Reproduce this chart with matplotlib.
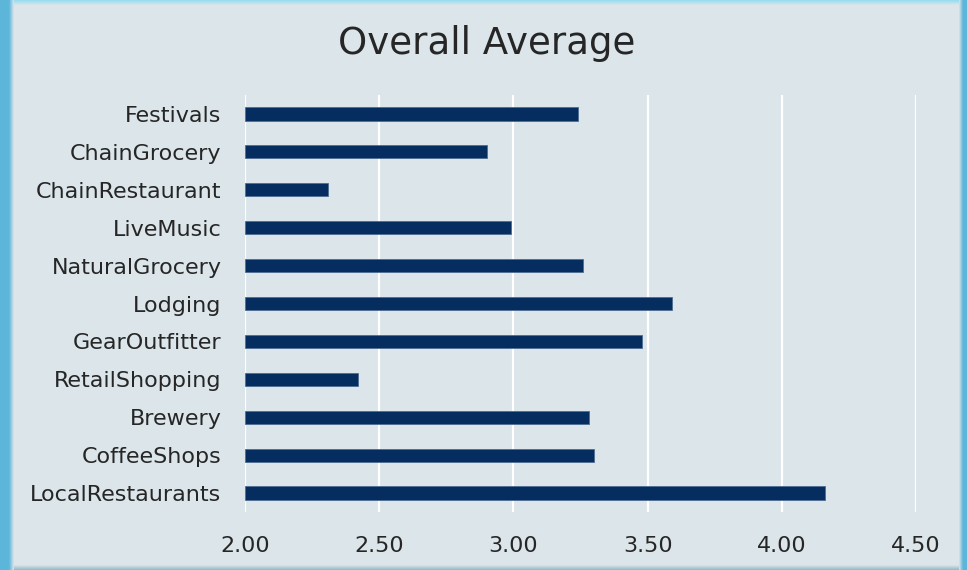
#!/usr/bin/env python3
"""
Horizontal bar chart of overall average ratings per business category.
"""

import numpy as np
import matplotlib
matplotlib.use("Agg")
import matplotlib.pyplot as plt

# ------------------------------------------------------------------
# data (top to bottom as displayed)
# ------------------------------------------------------------------
categories = ["Festivals", "ChainGrocery", "ChainRestaurant", "LiveMusic",
              "NaturalGrocery", "Lodging", "GearOutfitter", "RetailShopping",
              "Brewery", "CoffeeShops", "LocalRestaurants"]
averages = [3.24, 2.90, 2.31, 2.99, 3.26, 3.59, 3.48, 2.42, 3.28, 3.30, 4.16]

x_ticks = [2.00, 2.50, 3.00, 3.50, 4.00, 4.50]
x_tick_labels = [f"{t:.2f}" for t in x_ticks]

plt.rcParams["font.family"] = ["DejaVu Sans"]
text_col = "#262626"
panel_col = "#dbe5ea"
edge_col = "#5cb6da"
bar_col = "#052d5f"

fig = plt.figure(figsize=(9.67, 5.70), dpi=100)
fig.patch.set_facecolor(panel_col)

# ------------------------------------------------------------------
# slide frame: blue edges around the light panel
# ------------------------------------------------------------------
bg = fig.add_axes([0, 0, 1, 1], zorder=-5)
bg.axis("off")

def edge_fade(ax, extent, c0, c1, horizontal=True, n=64):
    ramp = np.linspace(0, 1, n)
    c0 = np.array(matplotlib.colors.to_rgb(c0))
    c1 = np.array(matplotlib.colors.to_rgb(c1))
    img = c0[None, :] * (1 - ramp[:, None]) + c1[None, :] * ramp[:, None]
    img = img[None, :, :] if horizontal else img[:, None, :]
    ax.imshow(img, extent=extent, aspect="auto", interpolation="bilinear")

edge_fade(bg, (0, 967, 5, 0), "#95dbf0", panel_col, horizontal=False)      # top
edge_fade(bg, (0, 967, 570, 565), panel_col, "#8fb8c6", horizontal=False)  # bottom
bg.add_patch(plt.Rectangle((0, 0), 9, 570, color=edge_col, lw=0))
edge_fade(bg, (9, 14, 570, 0), edge_col, panel_col)                        # left
bg.add_patch(plt.Rectangle((963, 0), 4, 570, color=edge_col, lw=0))
edge_fade(bg, (959, 963, 570, 0), panel_col, edge_col)                     # right
bg.set_xlim(0, 967)
bg.set_ylim(570, 0)

# ------------------------------------------------------------------
# bars
# ------------------------------------------------------------------
ax = fig.add_axes([245 / 967, 1 - 512 / 570, (916 - 245) / 967, (512 - 95) / 570])
ax.set_facecolor("none")

ypos = np.arange(len(categories))
ax.barh(ypos, [v - x_ticks[0] for v in averages], left=x_ticks[0], height=0.35,
        color=bar_col, edgecolor="#4d6d92", linewidth=0.6, zorder=3)

ax.set_xlim(x_ticks[0], x_ticks[-1])
ax.set_ylim(len(categories) - 0.5, -0.5)
ax.set_xticks(x_ticks)
ax.set_xticklabels(x_tick_labels)
ax.set_yticks(ypos)
ax.set_yticklabels(categories)

ax.grid(axis="x", color="white", linewidth=1.6, zorder=1)
ax.set_axisbelow(True)
for s in ax.spines.values():
    s.set_visible(False)
ax.tick_params(axis="both", length=0, labelsize=16, colors=text_col)
ax.tick_params(axis="x", pad=17)
ax.tick_params(axis="y", pad=17)

fig.text(487 / 967, 1 - 44 / 570, "Overall Average", ha="center", va="center",
         fontsize=26.7, color=text_col)

fig.savefig("out.png", dpi=100, facecolor=fig.get_facecolor())
plt.close(fig)
